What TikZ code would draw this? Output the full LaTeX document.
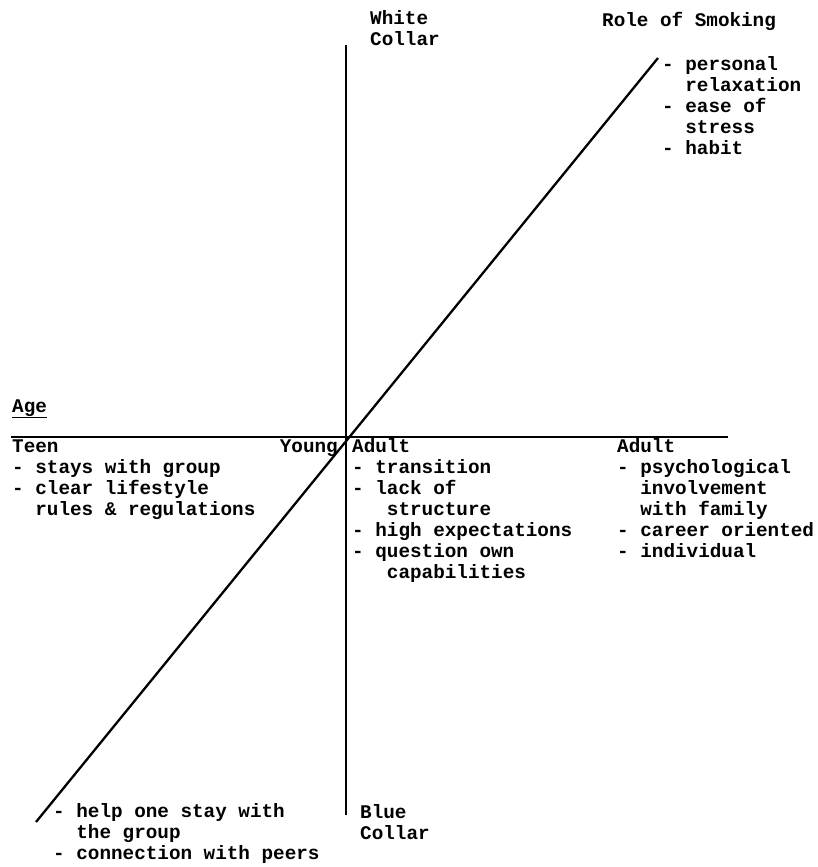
\documentclass[tikz,border=0pt]{standalone}
\usepackage{fontspec}
\setmainfont{Liberation Mono}

\tikzset{
  txt/.style={anchor=base west, inner sep=0pt, align=left,
    font=\fontsize{19.3}{21}\selectfont\bfseries},
  axis/.style={line width=2.3pt}
}
\newcommand{\ind}{\phantom{- }}

\begin{document}
\begin{tikzpicture}[x=1pt, y=-1pt]
\useasboundingbox (0,0) rectangle (817,867);

% Axes
\coordinate (wc) at (346,45);
\coordinate (bc) at (346,815);
\coordinate (agel) at (11,437);
\coordinate (ager) at (728,437);
\coordinate (smkb) at (36,822);
\coordinate (smkt) at (658,58);
\draw[axis] (wc) -- (bc);
\draw[axis] (agel) -- (ager);
\draw[axis] (smkb) -- (smkt);

% Axis names (base = last line)
\node[txt] (white) at (370,46) {White\\Collar};
\node[txt] (blue) at (360,839) {Blue\\Collar};
\node[txt] (role) at (602,27) {Role of Smoking};
\node[txt] (age) at (12,412) {\underline{Age}};

% Role of smoking
\node[txt] (roleitems) at (662,154) {- personal\\\ind relaxation\\- ease of\\\ind stress\\- habit};
\node[txt] (help) at (53,859) {- help one stay with\\\ind the group\\- connection with peers};

% Age groups
\node[txt] (teen) at (12,515) {Teen\\- stays with group\\- clear lifestyle\\\ind rules \& regulations};
\node[txt, anchor=base east] (young) at (338,452) {Young};
\node[txt] (yadult) at (352,578) {Adult\\- transition\\- lack of\\\phantom{xxx}structure\\- high expectations\\- question own\\\phantom{xxx}capabilities};
\node[txt] (adult) at (617,557) {Adult\\- psychological\\\ind involvement\\\ind with family\\- career oriented\\- individual};

\end{tikzpicture}
\end{document}
